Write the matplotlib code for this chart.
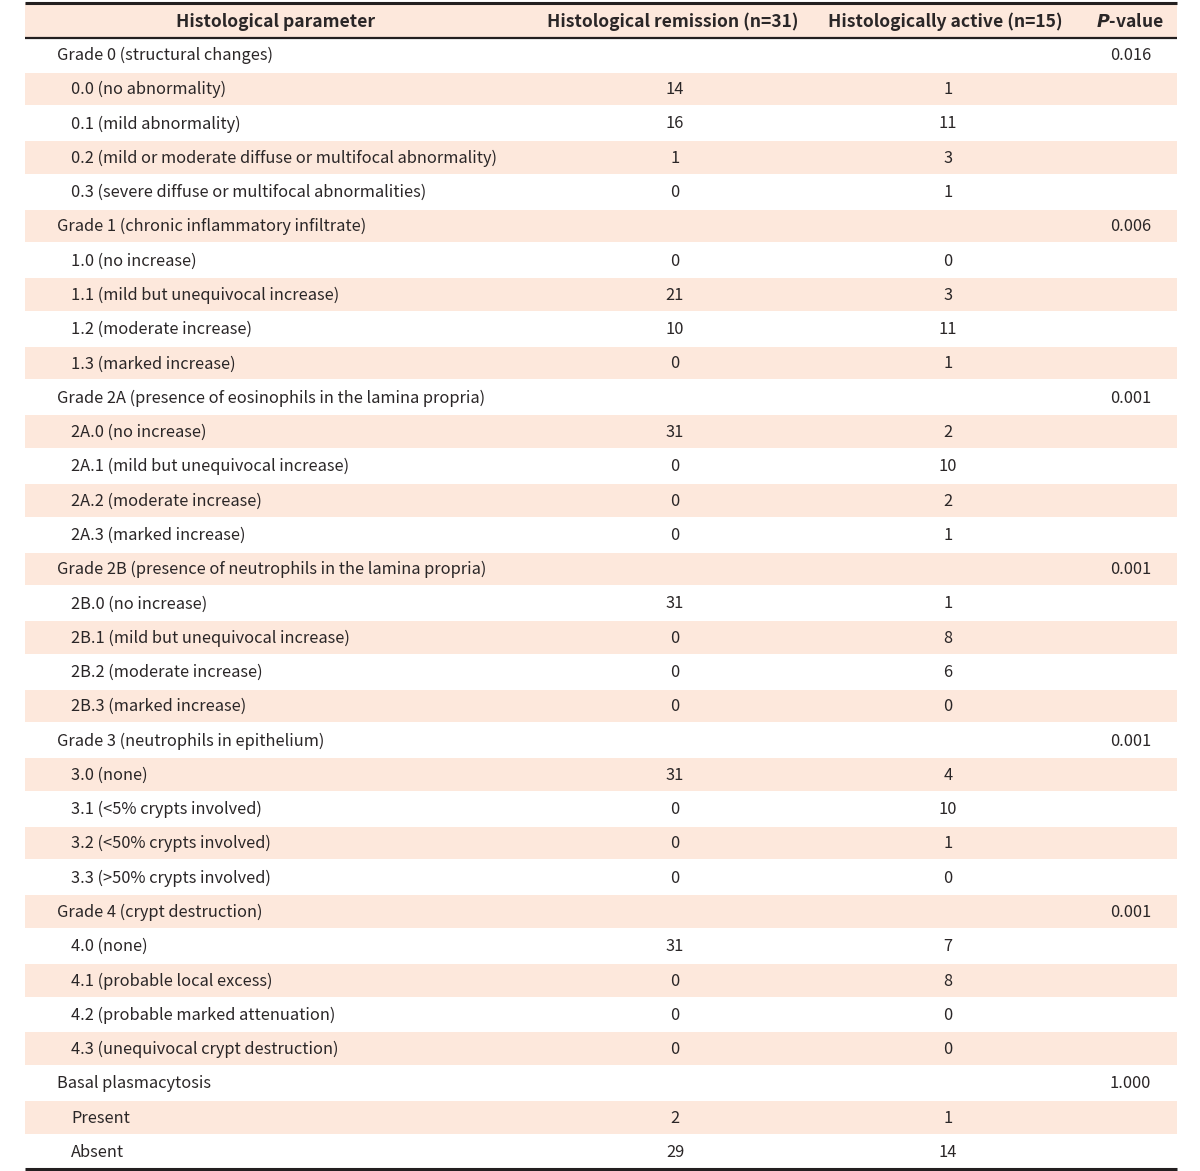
import matplotlib
matplotlib.use("Agg")
import matplotlib.pyplot as plt
from matplotlib.patches import Rectangle

plt.rcParams['font.family'] = ['Noto Sans CJK KR', 'DejaVu Sans']

headers = ["Histological parameter", "Histological remission (n=31)",
           "Histologically active (n=15)", "P-value"]

labels = [
    "Grade 0 (structural changes)",
    "0.0 (no abnormality)",
    "0.1 (mild abnormality)",
    "0.2 (mild or moderate diffuse or multifocal abnormality)",
    "0.3 (severe diffuse or multifocal abnormalities)",
    "Grade 1 (chronic inflammatory infiltrate)",
    "1.0 (no increase)",
    "1.1 (mild but unequivocal increase)",
    "1.2 (moderate increase)",
    "1.3 (marked increase)",
    "Grade 2A (presence of eosinophils in the lamina propria)",
    "2A.0 (no increase)",
    "2A.1 (mild but unequivocal increase)",
    "2A.2 (moderate increase)",
    "2A.3 (marked increase)",
    "Grade 2B (presence of neutrophils in the lamina propria)",
    "2B.0 (no increase)",
    "2B.1 (mild but unequivocal increase)",
    "2B.2 (moderate increase)",
    "2B.3 (marked increase)",
    "Grade 3 (neutrophils in epithelium)",
    "3.0 (none)",
    "3.1 (<5% crypts involved)",
    "3.2 (<50% crypts involved)",
    "3.3 (>50% crypts involved)",
    "Grade 4 (crypt destruction)",
    "4.0 (none)",
    "4.1 (probable local excess)",
    "4.2 (probable marked attenuation)",
    "4.3 (unequivocal crypt destruction)",
    "Basal plasmacytosis",
    "Present",
    "Absent",
]
is_group = [l.startswith("Grade") or l == "Basal plasmacytosis" for l in labels]

remission = ["", "14", "16", "1", "0",
             "", "0", "21", "10", "0",
             "", "31", "0", "0", "0",
             "", "31", "0", "0", "0",
             "", "31", "0", "0", "0",
             "", "31", "0", "0", "0",
             "", "2", "29"]
active = ["", "1", "11", "3", "1",
          "", "0", "3", "11", "1",
          "", "2", "10", "2", "1",
          "", "1", "8", "6", "0",
          "", "4", "10", "1", "0",
          "", "7", "8", "0", "0",
          "", "1", "14"]
pvalues = ["0.016", "", "", "", "",
           "0.006", "", "", "", "",
           "0.001", "", "", "", "",
           "0.001", "", "", "", "",
           "0.001", "", "", "", "",
           "0.001", "", "", "", "",
           "1.000", "", ""]

W, H = 1200, 1171
fig = plt.figure(figsize=(W / 100, H / 100), dpi=100)
ax = fig.add_axes([0, 0, 1, 1])
ax.set_xlim(0, W)
ax.set_ylim(H, 0)
ax.axis("off")

shade = "#fde8dc"
text_col = "#2a2627"
left, right = 25, 1177
top, head_bot = 3, 37.5
row_h = 34.28
fs = 11.8
hfs = 12.6

# header
ax.add_patch(Rectangle((left, top), right - left, head_bot - top, color=shade, lw=0))
hy = (top + head_bot) / 2 + 1.5
ax.text(276, hy, headers[0], ha="center", va="center", fontsize=hfs, fontweight="bold", color=text_col)
ax.text(673, hy, headers[1], ha="center", va="center", fontsize=hfs, fontweight="bold", color=text_col)
ax.text(945, hy, headers[2], ha="center", va="center", fontsize=hfs, fontweight="bold", color=text_col)
ax.text(1130, hy, r"$\bfit{P}$" + "-value", ha="center", va="center", fontsize=hfs,
        fontweight="bold", color=text_col)

for i, lab in enumerate(labels):
    y0 = head_bot + i * row_h
    yc = y0 + row_h / 2 + 0.8
    if i % 2 == 1:
        ax.add_patch(Rectangle((left, y0 + 0.8), right - left, row_h - 1.6, color=shade, lw=0))
    x = 57 if is_group[i] else 71
    ax.text(x, yc, lab, ha="left", va="center", fontsize=fs, color=text_col)
    ax.text(675, yc, remission[i], ha="center", va="center", fontsize=fs, color=text_col)
    ax.text(948, yc, active[i], ha="center", va="center", fontsize=fs, color=text_col)
    ax.text(1151, yc, pvalues[i], ha="right", va="center", fontsize=fs, color=text_col)

bottom = head_bot + len(labels) * row_h
ax.plot([left, right], [top, top], color="#231f20", lw=2.2, solid_capstyle="butt")
ax.plot([left, right], [head_bot, head_bot], color="#231f20", lw=1.6, solid_capstyle="butt")
ax.plot([left, right], [bottom, bottom], color="#231f20", lw=2.2, solid_capstyle="butt")

fig.savefig("out.png", dpi=100, facecolor="white")
